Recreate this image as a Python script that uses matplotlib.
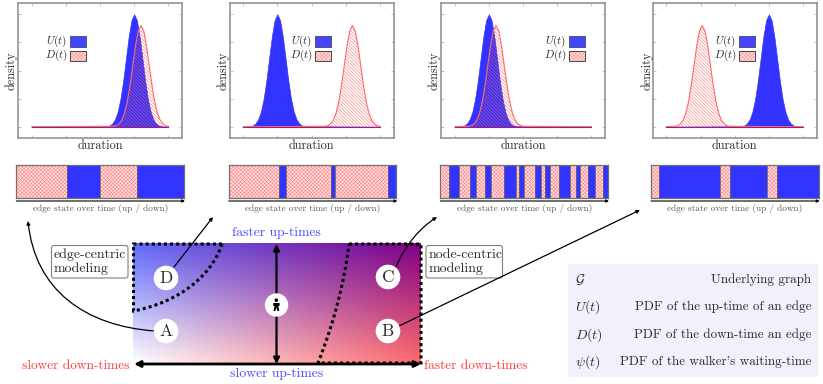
import numpy as np
import matplotlib
matplotlib.use("Agg")
import matplotlib.pyplot as plt
from matplotlib.patches import FancyArrowPatch, FancyBboxPatch, Circle, Rectangle, Polygon, PathPatch
from matplotlib.path import Path

plt.rcParams['font.family'] = ['cmr10', 'DejaVu Serif']
plt.rcParams['mathtext.fontset'] = 'cm'
plt.rcParams['axes.unicode_minus'] = False
plt.rcParams['hatch.linewidth'] = 0.34
W, H = 823, 384

# ---- density curves ----
u_offsets = [-0.80, -0.72, -0.64, -0.56, -0.48, -0.40, -0.32, -0.24, -0.16, -0.08, 0.0,
             0.08, 0.16, 0.24, 0.32, 0.40, 0.48, 0.56, 0.64, 0.72, 0.80]
u_heights = [0.004, 0.011, 0.029, 0.066, 0.135, 0.249, 0.411, 0.607, 0.801, 0.946, 1.0,
             0.946, 0.801, 0.607, 0.411, 0.249, 0.135, 0.066, 0.029, 0.011, 0.004]
d_offsets = [-0.80, -0.72, -0.64, -0.56, -0.48, -0.40, -0.32, -0.24, -0.16, -0.08, 0.0,
             0.08, 0.16, 0.24, 0.32, 0.40, 0.48, 0.56, 0.64, 0.72, 0.80]
d_heights = [0.004, 0.010, 0.026, 0.059, 0.122, 0.224, 0.370, 0.546, 0.721, 0.851, 0.90,
             0.851, 0.721, 0.546, 0.370, 0.224, 0.122, 0.059, 0.026, 0.010, 0.004]
u_peaks = [3.0, 1.0, 1.0, 3.0]
d_peaks = [3.2, 3.2, 1.21, 1.05]
duration_range = [0.0, 4.0]
x_ticks = [0, 1, 2, 3, 4]
y_ticks = [0, 0.25, 0.5, 0.75, 1.0]

# ---- edge state durations, first state is "down" ----
strip1 = [151, 100, 110, 142]
strip2 = [151, 20, 135, 12, 159, 26]
strip3 = [26, 31, 33, 16, 29, 17, 39, 36, 10, 15, 31, 19, 11, 15, 29, 31, 19, 12, 24, 21, 25, 14]
strip4 = [25, 182, 29, 112, 30, 125]
strips = [strip1, strip2, strip3, strip4]

# ---- layout ----
panel_lefts = [18, 229.5, 441, 652.7]
panel_width = 164
strip_lefts = [16.3, 228.7, 440.3, 651]
strip_width = 167.7
legend_box_x = [70, 315, 569, 739]
ylabel_x = [11, 223, 434, 647]

# ---- glossary ----
gloss_symbols = [r'$\mathcal{G}$', r'$U(t)$', r'$D(t)$', r'$\psi(t)$']
gloss_texts = ['Underlying graph', 'PDF of the up-time of an edge',
               'PDF of the down-time an edge', "PDF of the walker's waiting-time"]
gloss_y = [280, 307, 335, 362]

# ---- scenarios ----
state_names = ['A', 'B', 'C', 'D']
state_x = [166, 388, 388, 166]
state_y = [331, 331, 277, 278]

BLUE = '#3333ff'
GRAY = '#8c8c8c'
TXT = '#2a2a2a'
PINK_H = '#ff7f7f'

fig = plt.figure(figsize=(W / 100, H / 100), dpi=100)


def ax_px(x0, y0, x1, y1, **kw):
    return fig.add_axes([x0 / W, 1 - y1 / H, (x1 - x0) / W, (y1 - y0) / H], **kw)


ov = ax_px(0, 0, W, H)
ov.set_xlim(0, W)
ov.set_ylim(H, 0)
ov.axis('off')
ov.set_zorder(5)
ov.patch.set_alpha(0)

for i in range(4):
    ax = ax_px(panel_lefts[i], 3, panel_lefts[i] + panel_width, 138)
    ux = [duration_range[0]] + [u_peaks[i] + o for o in u_offsets] + [duration_range[1]]
    dx = [duration_range[0]] + [d_peaks[i] + o for o in d_offsets] + [duration_range[1]]
    uy = [0] + u_heights + [0]
    dy = [0] + d_heights + [0]
    ax.fill_between(ux, 0, uy, facecolor=BLUE, edgecolor=BLUE, lw=0.5, zorder=2)
    ax.fill_between(dx, 0, dy, facecolor='none', edgecolor='#ff5c5c', hatch='\\' * 10, lw=0, zorder=3)
    ax.plot(dx, dy, color='#ff6a6a', lw=0.8, zorder=4)
    ax.plot(duration_range, [0, 0], color='#9a2080', lw=0.8, zorder=5)
    ax.set_xlim(-0.4, 4.4)
    ax.set_ylim(-0.1, 1.1)
    ax.set_xticks(x_ticks)
    ax.set_yticks(y_ticks)
    ax.tick_params(direction='in', top=True, right=True, length=2.2, width=0.6, color='#b5b5b5',
                   labelbottom=False, labelleft=False)
    for s in ax.spines.values():
        s.set_color(GRAY)
        s.set_linewidth(1.1)

    # legend
    bx = legend_box_x[i]
    ov.add_patch(Rectangle((bx, 36), 16, 10.5, facecolor='#4444ff', edgecolor='#555577', lw=0.7))
    ov.add_patch(Rectangle((bx, 50.5), 16, 10, facecolor='#ffe4e4', edgecolor=PINK_H, lw=0, hatch='x' * 9))
    ov.add_patch(Rectangle((bx, 50.5), 16, 10, facecolor='none', edgecolor='#444444', lw=0.7))
    ov.text(bx - 2.5, 41, r'$U(t)$', ha='right', va='center', fontsize=8, color=TXT)
    ov.text(bx - 2.5, 55.5, r'$D(t)$', ha='right', va='center', fontsize=8, color=TXT)
    ov.text(panel_lefts[i] + panel_width / 2, 146, 'duration', ha='center', va='center', fontsize=8.8, color=TXT)
    ov.text(ylabel_x[i], 71, 'density', ha='center', va='center', rotation=90, fontsize=8.8, color=TXT)

    # strip
    st = ax_px(strip_lefts[i], 164.5, strip_lefts[i] + strip_width, 198)
    left = 0
    for k, d in enumerate(strips[i]):
        if k % 2 == 0:
            st.barh(0, d, left=left, height=1, facecolor='#ffdcdc', edgecolor=PINK_H, hatch='x' * 9, lw=0)
        else:
            st.barh(0, d, left=left, height=1, facecolor=BLUE, edgecolor=BLUE, lw=0)
        st.axvline(left, color='#666666', lw=0.6)
        left += d
    st.set_xlim(0, left)
    st.set_ylim(-0.5, 0.5)
    st.set_xticks([])
    st.set_yticks([])
    for s in st.spines.values():
        s.set_color('#707070')
        s.set_linewidth(0.9)
    ov.add_patch(FancyArrowPatch((strip_lefts[i], 201), (strip_lefts[i] + strip_width + 1, 201),
                                 arrowstyle='-|>', mutation_scale=4, lw=0.8, color='black',
                                 shrinkA=0, shrinkB=0))
    ov.text(strip_lefts[i] + strip_width / 2, 208.5, 'edge state over time (up / down)',
            ha='center', va='center', fontsize=6.65, color='#555555')

# ---- gradient map ----
gx0, gx1, gy0, gy1 = 133, 421, 243, 364
corner_tl = np.array([0.38, 0.42, 0.98])
corner_tr = np.array([0.50, 0.0, 0.52])
corner_bl = np.array([1.0, 1.0, 1.0])
corner_br = np.array([1.0, 0.42, 0.42])
tx, ty = np.meshgrid(np.linspace(0, 1, 160), np.linspace(0, 1, 80))
tx = tx[..., None]
ty = ty[..., None]
shade = (corner_tl * (1 - tx) + corner_tr * tx) * (1 - ty) + (corner_bl * (1 - tx) + corner_br * tx) * ty
ov.imshow(shade, extent=(gx0, gx1, gy1, gy0), aspect='auto', interpolation='bilinear', zorder=1)
ov.set_xlim(0, W)
ov.set_ylim(H, 0)

dot = dict(lw=2.2, color='black', linestyle=(0, (1, 1)), zorder=3, capstyle='butt', fill=False)
MV, C4, LN = Path.MOVETO, Path.CURVE4, Path.LINETO
ov.add_patch(PathPatch(Path([(222, 244), (133.5, 244), (133.5, 311), (180, 302), (212, 275), (222, 244)],
                            [MV, LN, LN, C4, C4, C4]), **dot))
ov.add_patch(PathPatch(Path([(349, 244), (421, 244), (421, 363), (318, 363), (333, 325), (344, 285), (349, 244)],
                            [MV, LN, LN, LN, C4, C4, C4]), **dot))

# thick axes arrows
ov.add_patch(FancyArrowPatch((276.5, 244), (276.5, 364), arrowstyle='<|-|>', mutation_scale=9, lw=1.6,
                             color='black', shrinkA=0, shrinkB=0, zorder=4))
ov.add_patch(FancyArrowPatch((134, 364), (421, 364), arrowstyle='<|-|>', mutation_scale=9, lw=2.0,
                             color='black', shrinkA=0, shrinkB=0, zorder=4))

# connectors
conn = dict(arrowstyle='-|>', mutation_scale=5, lw=0.9, color='black', zorder=4)
ov.add_patch(FancyArrowPatch(path=Path([(155, 331), (85, 326), (35, 290), (28, 221)], [MV, C4, C4, C4]), **conn))
ov.add_patch(FancyArrowPatch((174, 267), (213, 217), shrinkA=0, shrinkB=0, **conn))
ov.add_patch(FancyArrowPatch(path=Path([(396, 267), (405, 245), (420, 228), (437, 217)], [MV, C4, C4, C4]), **conn))
ov.add_patch(FancyArrowPatch((399, 326), (640, 210), shrinkA=0, shrinkB=0, **conn))

# state discs
for name, sx, sy in zip(state_names, state_x, state_y):
    ov.add_patch(Circle((sx, sy), 12.3, facecolor='white', edgecolor='none', zorder=5))
    ov.text(sx, sy, name, ha='center', va='center', fontsize=12.5, color=TXT, zorder=6)

# walker icon
ov.add_patch(Circle((276.5, 305), 11.7, facecolor='white', edgecolor='none', zorder=5))
ov.add_patch(Circle((276.3, 300.2), 1.8, facecolor='black', edgecolor='none', zorder=6))
ov.add_patch(Polygon([(273.3, 303), (279.6, 303), (279.6, 306), (278.3, 306), (279.3, 311), (277.5, 311),
                      (276.4, 307.5), (275.3, 311), (273.5, 311), (274.5, 306), (273.3, 306)],
                     closed=True, facecolor='black', edgecolor='none', zorder=6))

# rounded boxes
for x0, l1, l2 in [(51.5, 'edge-centric', 'modeling'), (426, 'node-centric', 'modeling')]:
    ov.add_patch(FancyBboxPatch((x0, 245.5), 76.5, 32.5, boxstyle='round,pad=0,rounding_size=2.5',
                                facecolor='white', edgecolor='#808080', lw=0.8, zorder=2))
    ov.text(x0 + 2.5, 254.5, l1, ha='left', va='center', fontsize=10, color=TXT)
    ov.text(x0 + 2.5, 268.5, l2, ha='left', va='center', fontsize=10, color=TXT)

# axis captions
ov.text(276.5, 233, 'faster up-times', ha='center', va='center', fontsize=9.8, color='#4a4aff')
ov.text(276.5, 374, 'slower up-times', ha='center', va='center', fontsize=9.8, color='#4a4aff')
ov.text(129.5, 365.5, 'slower down-times', ha='right', va='center', fontsize=9.6, color='#ff3c3c')
ov.text(424, 365.5, 'faster down-times', ha='left', va='center', fontsize=9.6, color='#ff3c3c')

# glossary
ov.add_patch(Rectangle((568, 264), 250, 113, facecolor='#f2f0fa', edgecolor='none', zorder=1))
for sym, txt, gy in zip(gloss_symbols, gloss_texts, gloss_y):
    ov.text(575, gy, sym, ha='left', va='center', fontsize=10, color=TXT)
    ov.text(811, gy, txt, ha='right', va='center', fontsize=9.45, color=TXT)

fig.savefig('out.png', dpi=100, facecolor='white')
